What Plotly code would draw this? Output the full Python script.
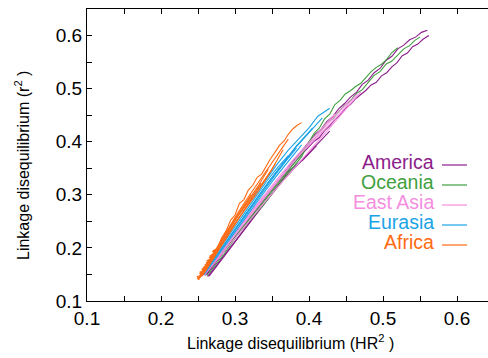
import plotly.graph_objects as go

# ---------------- data ----------------
groups = ["America", "Oceania", "East Asia", "Eurasia", "Africa"]
colors = {"America": "#8c1d8c", "Oceania": "#3f9f3f", "East Asia": "#f58ee0",
          "Eurasia": "#1ba3e6", "Africa": "#ff6a12"}

america_x = [
    [0.260, 0.275, 0.290, 0.305, 0.320, 0.333, 0.345, 0.358, 0.370, 0.385,
     0.400, 0.407, 0.414, 0.421, 0.428, 0.435, 0.442, 0.449, 0.456, 0.463, 0.470, 0.477,
     0.484, 0.491, 0.498, 0.505, 0.512, 0.519, 0.526, 0.533, 0.540, 0.547, 0.554, 0.562],
    [0.262, 0.280, 0.300, 0.320, 0.340, 0.360, 0.380,
     0.400, 0.408, 0.416, 0.424, 0.432, 0.440, 0.448, 0.456, 0.464, 0.472, 0.480, 0.488,
     0.496, 0.504, 0.512, 0.520, 0.528, 0.536, 0.544, 0.552, 0.560],
    [0.263, 0.280, 0.297, 0.314, 0.331, 0.348, 0.364, 0.380, 0.396, 0.412, 0.428],
    [0.265, 0.283, 0.301, 0.319, 0.337, 0.355, 0.373, 0.392, 0.410],
]
america_y = [
    [0.148, 0.176, 0.203, 0.230, 0.256, 0.280, 0.302, 0.325, 0.346, 0.368,
     0.390, 0.401, 0.408, 0.421, 0.430, 0.442, 0.450, 0.463, 0.470, 0.481, 0.489, 0.497,
     0.507, 0.512, 0.524, 0.530, 0.541, 0.549, 0.562, 0.567, 0.579, 0.584, 0.593, 0.600],
    [0.150, 0.184, 0.221, 0.257, 0.294, 0.330, 0.366,
     0.400, 0.414, 0.423, 0.438, 0.447, 0.462, 0.472, 0.484, 0.493, 0.508, 0.516, 0.530,
     0.538, 0.553, 0.561, 0.575, 0.582, 0.592, 0.597, 0.606, 0.610],
    [0.146, 0.177, 0.207, 0.238, 0.268, 0.298, 0.326, 0.350, 0.373, 0.396, 0.420],
    [0.147, 0.180, 0.212, 0.245, 0.280, 0.313, 0.345, 0.366, 0.392],
]

oceania_x = [
    [0.258, 0.280, 0.300, 0.320, 0.340, 0.360, 0.380,
     0.400, 0.408, 0.416, 0.424, 0.432, 0.440, 0.448, 0.456, 0.464, 0.472, 0.480, 0.488,
     0.496, 0.504, 0.512, 0.520, 0.528, 0.536, 0.543, 0.550],
    [0.258, 0.285, 0.313, 0.340, 0.370, 0.390,
     0.400, 0.407, 0.414, 0.421, 0.428, 0.435, 0.442, 0.449, 0.456, 0.463, 0.470, 0.477,
     0.484, 0.491, 0.498, 0.505, 0.512, 0.520],
    [0.262, 0.285, 0.309, 0.320, 0.335, 0.350, 0.365, 0.380, 0.395],
]
oceania_y = [
    [0.150, 0.186, 0.222, 0.258, 0.294, 0.330, 0.364,
     0.398, 0.412, 0.421, 0.436, 0.443, 0.455, 0.469, 0.477, 0.491, 0.498, 0.512, 0.525,
     0.532, 0.546, 0.552, 0.563, 0.575, 0.581, 0.591, 0.597],
    [0.150, 0.195, 0.240, 0.284, 0.336, 0.372,
     0.400, 0.416, 0.426, 0.443, 0.452, 0.470, 0.478, 0.490, 0.496, 0.504, 0.510, 0.521,
     0.532, 0.540, 0.546, 0.555, 0.568, 0.577],
    [0.148, 0.188, 0.236, 0.254, 0.280, 0.307, 0.334, 0.360, 0.386],
]

eastasia_x = [
    [0.256, 0.278, 0.295, 0.310, 0.330, 0.350, 0.370, 0.390, 0.415, 0.440, 0.465],
    [0.258, 0.276, 0.294, 0.312, 0.330, 0.348, 0.366, 0.384, 0.402, 0.420, 0.440, 0.455],
    [0.255, 0.272, 0.290, 0.308, 0.326, 0.344, 0.362, 0.380, 0.398, 0.416, 0.435],
    [0.259, 0.277, 0.296, 0.315, 0.334, 0.353, 0.372, 0.391, 0.410, 0.428, 0.445, 0.470],
]
eastasia_y = [
    [0.148, 0.183, 0.215, 0.245, 0.280, 0.314, 0.348, 0.380, 0.414, 0.450, 0.490],
    [0.150, 0.182, 0.214, 0.246, 0.278, 0.310, 0.340, 0.370, 0.398, 0.426, 0.456, 0.478],
    [0.146, 0.178, 0.211, 0.244, 0.276, 0.308, 0.338, 0.368, 0.396, 0.424, 0.452],
    [0.149, 0.180, 0.212, 0.244, 0.276, 0.307, 0.338, 0.368, 0.398, 0.426, 0.454, 0.494],
]

eurasia_x = [
    [0.255, 0.265, 0.280, 0.300, 0.318, 0.336, 0.356, 0.372, 0.388, 0.400, 0.412, 0.428],
    [0.257, 0.272, 0.290, 0.308, 0.326, 0.344, 0.362, 0.380, 0.398, 0.418],
    [0.256, 0.271, 0.287, 0.303, 0.319, 0.335, 0.351, 0.367, 0.383, 0.405],
    [0.258, 0.274, 0.290, 0.306, 0.322, 0.338, 0.354, 0.370, 0.390],
    [0.254, 0.268, 0.283, 0.298, 0.313, 0.328, 0.343, 0.358, 0.372],
    [0.257, 0.273, 0.289, 0.305, 0.321, 0.337, 0.353, 0.369, 0.383],
]
eurasia_y = [
    [0.150, 0.171, 0.205, 0.246, 0.282, 0.318, 0.356, 0.384, 0.408, 0.426, 0.448, 0.463],
    [0.150, 0.180, 0.216, 0.252, 0.287, 0.322, 0.354, 0.386, 0.414, 0.445],
    [0.148, 0.177, 0.209, 0.241, 0.272, 0.304, 0.334, 0.364, 0.392, 0.426],
    [0.149, 0.180, 0.211, 0.242, 0.272, 0.302, 0.332, 0.360, 0.394],
    [0.147, 0.176, 0.206, 0.236, 0.266, 0.296, 0.326, 0.352, 0.374],
    [0.150, 0.181, 0.212, 0.243, 0.274, 0.305, 0.335, 0.364, 0.388],
]

africa_x = [
    [0.252, 0.258, 0.264, 0.270, 0.276, 0.282, 0.288, 0.294, 0.300, 0.306, 0.312, 0.318,
     0.324, 0.330, 0.336, 0.342, 0.348, 0.354, 0.360, 0.366, 0.372, 0.378, 0.384, 0.390],
    [0.254, 0.265, 0.277, 0.290, 0.302, 0.314, 0.326, 0.338, 0.349, 0.360, 0.372],
    [0.251, 0.263, 0.276, 0.289, 0.301, 0.313, 0.325, 0.337, 0.349, 0.358, 0.365],
    [0.256, 0.268, 0.280, 0.293, 0.306, 0.318, 0.330, 0.342, 0.355],
    [0.253, 0.266, 0.279, 0.292, 0.305, 0.318, 0.332, 0.345],
    [0.258, 0.270, 0.283, 0.296, 0.309, 0.322, 0.335],
    [0.250, 0.262, 0.274, 0.286, 0.298, 0.310, 0.322],
    [0.249, 0.256, 0.252, 0.260, 0.255, 0.263, 0.259, 0.267, 0.262, 0.271, 0.266, 0.274, 0.270, 0.277],
    [0.252, 0.249, 0.257, 0.253, 0.261, 0.257, 0.266, 0.261, 0.270, 0.265, 0.274, 0.270, 0.279],
]
africa_y = [
    [0.146, 0.160, 0.171, 0.188, 0.199, 0.219, 0.232, 0.252, 0.262, 0.284, 0.291, 0.309,
     0.318, 0.333, 0.339, 0.355, 0.368, 0.380, 0.393, 0.401, 0.414, 0.424, 0.431, 0.436],
    [0.150, 0.176, 0.204, 0.236, 0.262, 0.288, 0.312, 0.336, 0.358, 0.382, 0.405],
    [0.142, 0.170, 0.200, 0.230, 0.254, 0.278, 0.300, 0.322, 0.346, 0.368, 0.385],
    [0.148, 0.175, 0.202, 0.232, 0.258, 0.280, 0.304, 0.330, 0.360],
    [0.144, 0.172, 0.204, 0.234, 0.262, 0.290, 0.318, 0.348],
    [0.152, 0.178, 0.207, 0.236, 0.262, 0.292, 0.322],
    [0.140, 0.168, 0.196, 0.224, 0.250, 0.276, 0.300],
    [0.142, 0.150, 0.152, 0.158, 0.160, 0.166, 0.168, 0.175, 0.176, 0.183, 0.185, 0.192, 0.194, 0.200],
    [0.140, 0.146, 0.150, 0.155, 0.160, 0.163, 0.170, 0.172, 0.180, 0.182, 0.190, 0.193, 0.201],
]

series = {
    "America": (america_x, america_y),
    "Oceania": (oceania_x, oceania_y),
    "East Asia": (eastasia_x, eastasia_y),
    "Eurasia": (eurasia_x, eurasia_y),
    "Africa": (africa_x, africa_y),
}
draw_order = ["America", "Oceania", "East Asia", "Eurasia", "Africa"]

x_ticks = [0.1, 0.2, 0.3, 0.4, 0.5, 0.6]
y_ticks = [0.1, 0.2, 0.3, 0.4, 0.5, 0.6]

# ---------------- figure ----------------
fig = go.Figure()
for g in draw_order:
    xs, ys = series[g]
    for xl, yl in zip(xs, ys):
        fig.add_trace(go.Scatter(x=xl, y=yl, mode="lines",
                                 line=dict(color=colors[g], width=1.1),
                                 showlegend=False, hoverinfo="skip"))

FONT = "Liberation Sans, Arial, sans-serif"
L, T, B = 87, 9, 57
W, H = 488, 358
pw = W - L
ph = H - T - B

axis_common = dict(showline=True, linecolor="black", linewidth=1.2,
                   ticks="inside", ticklen=5, tickcolor="black", tickwidth=1,
                   showgrid=False, zeroline=False,
                   tickfont=dict(family=FONT, size=19, color="black"),
                   minor=dict(dtick=0.05, ticks="inside", ticklen=5,
                              tickcolor="black", tickwidth=1, showgrid=False))

fig.update_xaxes(range=[0.1, 0.1 + pw / 740.0], tickvals=x_ticks,
                 ticktext=[f"{v:.1f}" for v in x_ticks], mirror="ticks",
                 tick0=0.1, **axis_common)
fig.update_yaxes(range=[0.1, 0.65], tickvals=y_ticks,
                 ticktext=[f"{v:.1f}" for v in y_ticks], mirror=False,
                 tick0=0.1, **axis_common)

def px_x(p):
    return (p - L) / pw

def px_y(p):
    return (H - B - p) / ph

annotations = [
    dict(text="Linkage disequilibrium (HR<sup>2</sup> )", x=px_x(290), y=px_y(342),
         xref="paper", yref="paper", xanchor="center", yanchor="middle",
         showarrow=False, font=dict(family=FONT, size=16, color="black")),
    dict(text="Linkage disequilibrium (r<sup>2</sup> )", x=px_x(22), y=px_y(166),
         xref="paper", yref="paper", xanchor="center", yanchor="middle",
         textangle=-90, showarrow=False,
         font=dict(family=FONT, size=16, color="black")),
]
shapes = []
legend_rows = [161.5, 181.5, 201.5, 221.5, 241.5]
for g, yc in zip(groups, legend_rows):
    annotations.append(dict(text=g, x=px_x(436), y=px_y(yc), xref="paper", yref="paper",
                            xanchor="right", yanchor="middle", showarrow=False,
                            font=dict(family=FONT, size=19.5, color=colors[g])))
    shapes.append(dict(type="line", xref="paper", yref="paper",
                       x0=px_x(442), x1=px_x(467), y0=px_y(yc + 3.5), y1=px_y(yc + 3.5),
                       line=dict(color=colors[g], width=1.2)))

fig.update_layout(width=W, height=H, margin=dict(l=L, r=0, t=T, b=B),
                  plot_bgcolor="white", paper_bgcolor="white",
                  showlegend=False, annotations=annotations, shapes=shapes)

fig.write_html("out.html")
